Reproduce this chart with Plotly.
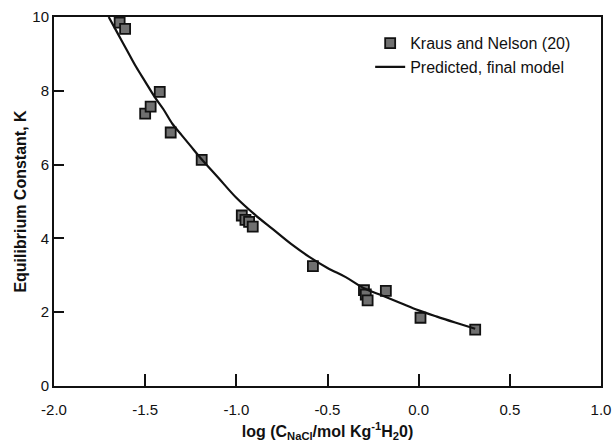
import plotly.graph_objects as go

# Experimental data (Kraus and Nelson)
exp_x = [-1.64, -1.61, -1.50, -1.47, -1.42, -1.36, -1.19, -0.97, -0.95, -0.93, -0.91,
         -0.58, -0.30, -0.29, -0.28, -0.18, 0.01, 0.31]
exp_k = [9.85, 9.68, 7.38, 7.57, 7.97, 6.87, 6.13, 4.62, 4.50, 4.45, 4.32,
         3.25, 2.60, 2.48, 2.32, 2.58, 1.85, 1.53]

# Predicted curve (final model)
pred_x = [-1.70, -1.65, -1.60, -1.55, -1.50, -1.45, -1.40, -1.35, -1.30, -1.25, -1.20,
          -1.10, -1.00, -0.90, -0.80, -0.70, -0.60, -0.50, -0.40, -0.30, -0.20, -0.10,
          0.00, 0.10, 0.20, 0.31]
pred_k = [10.0, 9.55, 9.1, 8.65, 8.25, 7.85, 7.5, 7.1, 6.8, 6.5, 6.2,
          5.65, 5.1, 4.65, 4.25, 3.85, 3.5, 3.2, 2.95, 2.65, 2.45, 2.25,
          2.05, 1.88, 1.72, 1.55]

x_ticks = [-2.0, -1.5, -1.0, -0.5, 0.0, 0.5, 1.0]
x_labels = ["-2.0", "-1.5", "-1.0", "-0.5", "0.0", "0.5", "1.0"]
y_ticks = [0, 2, 4, 6, 8, 10]

font_family = "Liberation Sans, Arial, sans-serif"

fig = go.Figure()
fig.add_trace(go.Scatter(
    x=exp_x, y=exp_k, mode="markers", name="Kraus and Nelson (20)",
    marker=dict(symbol="square", size=10, color="#707070",
                line=dict(color="#111111", width=1.8)),
))
fig.add_trace(go.Scatter(
    x=pred_x, y=pred_k, mode="lines", name="Predicted, final model",
    line=dict(color="#111111", width=2.2, shape="spline", smoothing=1.0),
))

axis_common = dict(
    showline=True, linecolor="#111111", linewidth=2, mirror=True,
    ticks="inside", tickcolor="#111111", tickwidth=1.5,
    showgrid=False, zeroline=False, automargin=False,
    tickfont=dict(family=font_family, size=15, color="#111111"),
)

fig.update_xaxes(range=[-2.0, 1.0], tickvals=x_ticks, ticktext=x_labels, ticklen=12,
                 ticklabelstandoff=9,
                 title=dict(text="<b>log (C<sub>NaCl</sub>/mol Kg<sup>-1</sup>H<sub>2</sub>0)</b>",
                            font=dict(family=font_family, size=16, color="#111111"),
                            standoff=16),
                 **axis_common)
fig.update_yaxes(range=[0, 10], tickvals=y_ticks, ticklen=10,
                 title=dict(text="<b>Equilibrium Constant, K</b>",
                            font=dict(family=font_family, size=16, color="#111111"),
                            standoff=2),
                 **axis_common)

fig.update_layout(
    width=615, height=442,
    margin=dict(l=54, r=14, t=17, b=56),
    plot_bgcolor="white", paper_bgcolor="white",
    font=dict(family=font_family, size=15, color="#111111"),
    legend=dict(x=0.578, y=0.975, xanchor="left", yanchor="top",
                bgcolor="rgba(0,0,0,0)", borderwidth=0,
                font=dict(family=font_family, size=16, color="#111111"),
                itemwidth=30),
)

fig.write_html("out.html")
